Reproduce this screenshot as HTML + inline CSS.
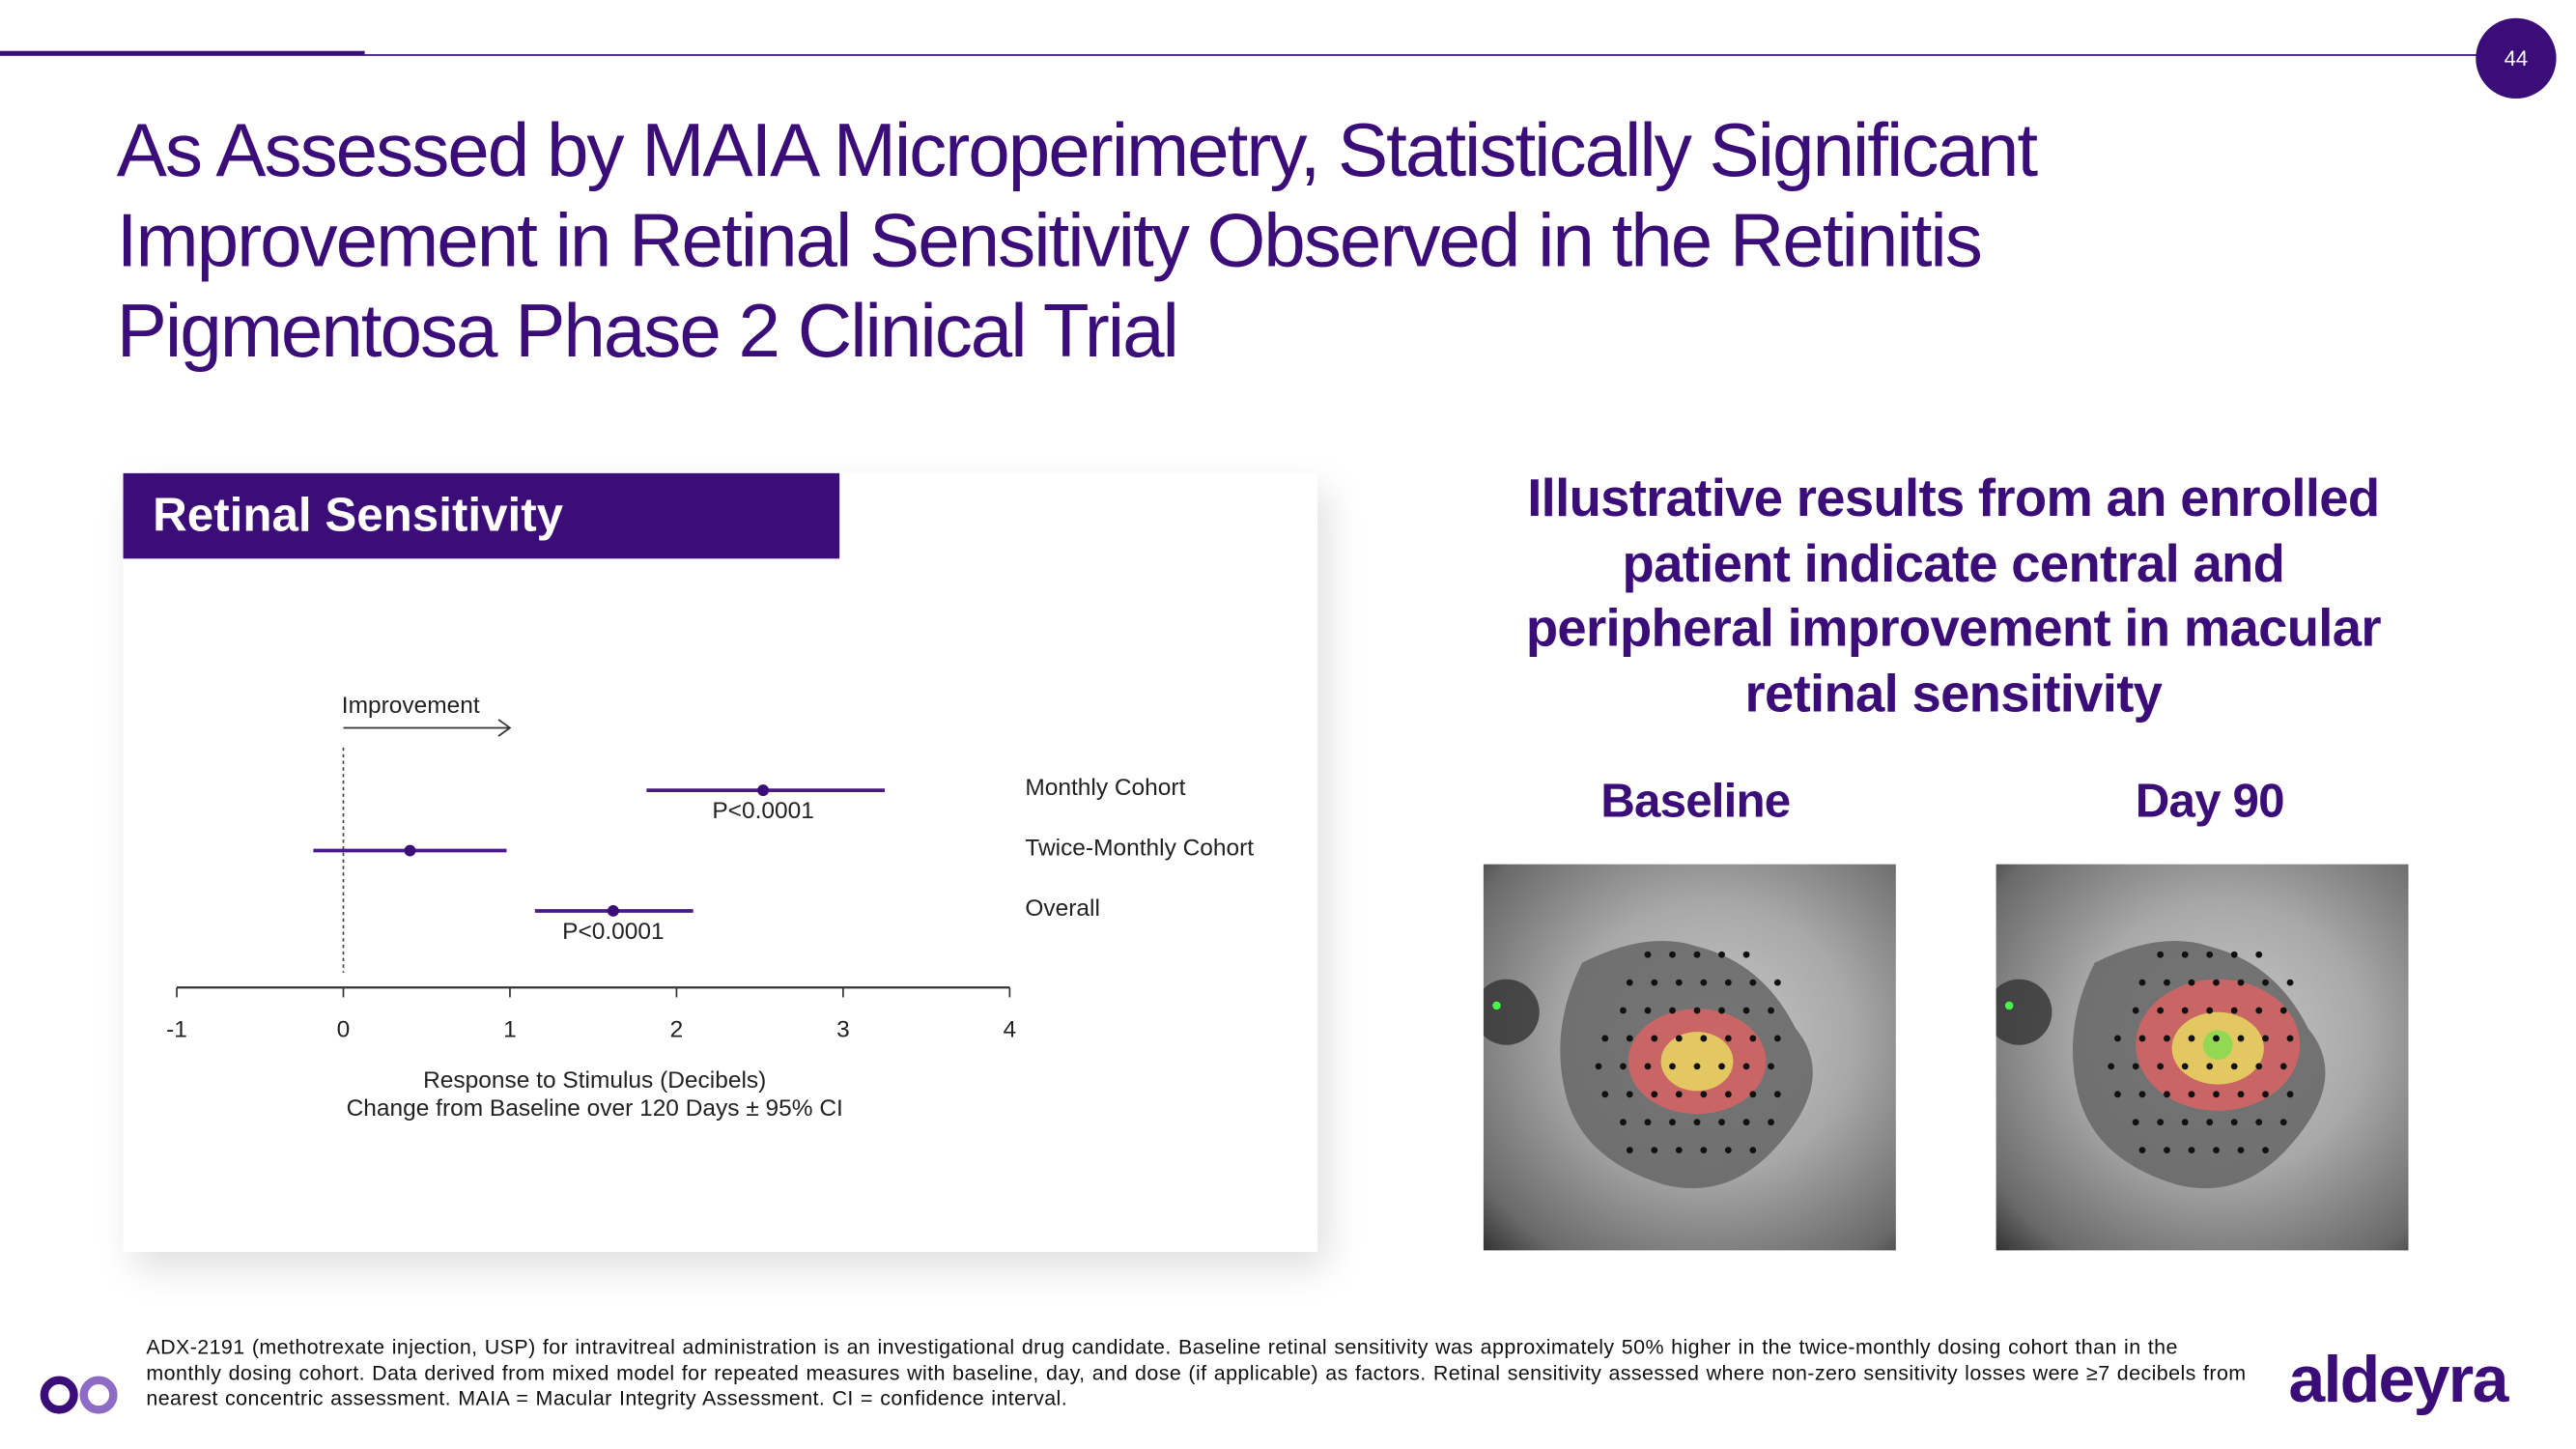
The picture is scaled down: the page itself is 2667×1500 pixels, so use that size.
<!DOCTYPE html>
<html><head><meta charset="utf-8"><style>
html,body{margin:0;padding:0;background:#fff;width:2667px;height:1500px;overflow:hidden}
#s{position:absolute;left:0;top:0;width:1568px;height:882px;transform:scale(1.70089);transform-origin:0 0;font-family:"Liberation Sans",sans-serif;color:#222}
.t{position:absolute;left:71px;top:64px;font-size:46px;line-height:55px;letter-spacing:-1.2px;color:#3b0d78;margin:0;font-weight:normal}
.card{position:absolute;left:75px;top:288px;width:727px;height:474px;background:#fff;box-shadow:6px 10px 22px rgba(0,0,0,0.13)}
.hdr{position:absolute;left:0;top:0;width:436px;height:52px;background:#3b0d78;color:#fff;font-weight:bold;font-size:29px;line-height:52px;padding-left:18px;box-sizing:border-box}
.rh{position:absolute;left:880px;width:618px;top:284px;text-align:center;font-weight:bold;font-size:32px;line-height:39.5px;letter-spacing:-0.4px;color:#3b0d78}
.lab{position:absolute;top:472px;font-weight:bold;font-size:29px;color:#3b0d78;letter-spacing:-0.5px;transform:translateX(-50%)}
.foot{position:absolute;left:89px;top:813px;width:1285px;font-size:12.6px;line-height:15.7px;color:#111;letter-spacing:0.25px;word-spacing:0.5px}
.img{position:absolute;top:526px;width:251px;height:235px;overflow:hidden;background:radial-gradient(ellipse at 55% 45%,#c8c8c8 0%,#a8a8a8 45%,#6a6a6a 85%,#333 100%)}
</style></head><body><div id="s">
<div style="position:absolute;left:0;top:31px;width:222px;height:3px;background:#3b0d78"></div>
<div style="position:absolute;left:222px;top:33px;width:1290px;height:1px;background:#3b0d78"></div>
<div style="position:absolute;left:1507px;top:11px;width:49px;height:49px;border-radius:50%;background:#3b0d78;color:#fff;font-size:13px;line-height:49px;text-align:center">44</div>
<h1 class="t">As Assessed by MAIA Microperimetry, Statistically Significant<br>Improvement in Retinal Sensitivity Observed in the Retinitis<br>Pigmentosa Phase 2 Clinical Trial</h1>
<div class="card"><div class="hdr">Retinal Sensitivity</div></div>
<svg id="ch" style="position:absolute;left:0;top:0" width="1568" height="882"></svg>
<div class="rh">Illustrative results from an enrolled<br>patient indicate central and<br>peripheral improvement in macular<br>retinal sensitivity</div>
<div class="lab" style="left:1032px">Baseline</div>
<div class="lab" style="left:1345px">Day 90</div>
<div class="img" style="left:903px"></div>
<div class="img" style="left:1215px"></div>
<div class="foot">ADX-2191 (methotrexate injection, USP) for intravitreal administration is an investigational drug candidate. Baseline retinal sensitivity was approximately 50% higher in the twice-monthly dosing cohort than in the monthly dosing cohort. Data derived from mixed model for repeated measures with baseline, day, and dose (if applicable) as factors. Retinal sensitivity assessed where non-zero sensitivity losses were ≥7 decibels from nearest concentric assessment. MAIA = Macular Integrity Assessment. CI = confidence interval.</div>
<svg style="position:absolute;left:22px;top:836px" width="54" height="26"><circle cx="14" cy="13" r="9" fill="none" stroke="#3b0d78" stroke-width="5"/><circle cx="38" cy="13" r="9" fill="none" stroke="#8e6bc4" stroke-width="5"/></svg>
<div style="position:absolute;left:1393px;top:818px;font-size:40px;font-weight:bold;color:#3b0d78;letter-spacing:-1px">aldeyra</div>
</div>
<script>
const categories=["Monthly Cohort","Twice-Monthly Cohort","Overall"];
const estimates=[2.52,0.4,1.62];
const lower=[1.82,-0.18,1.15];
const upper=[3.25,0.98,2.1];
const pLabels=["P<0.0001","","P<0.0001"];
const ticks=[-1,0,1,2,3,4];
const ns="http://www.w3.org/2000/svg";
const svg=document.getElementById('ch');
const X=v=>209+v*101.4;
const Y=i=>481+i*36.7;
function mk(t,a,txt){const e=document.createElementNS(ns,t);for(const k in a)e.setAttribute(k,a[k]);if(txt!==undefined)e.textContent=txt;svg.appendChild(e);return e;}
const F='font-family:"Liberation Sans",sans-serif;font-size:14.4px;fill:#222';
let e;
e=mk('line',{x1:X(-1),x2:X(4),y1:601,y2:601,stroke:'#333','stroke-width':1.3});


ticks.forEach(t=>{
 e=mk('line',{x1:X(t),x2:X(t),y1:601,y2:607,stroke:'#333'});
 
 
 e=mk('text',{x:X(t),y:631,'text-anchor':'middle',style:F},String(t));
 
 
});
e=mk('line',{x1:X(0),x2:X(0),y1:455,y2:592,stroke:'#444','stroke-dasharray':'2,2'});


e=mk('text',{x:208,y:434,style:F},'Improvement');


e=mk('path',{d:`M${X(0)} 443 H${X(1)} M${X(1)-7} 438 L${X(1)} 443 L${X(1)-7} 448`,stroke:'#333',fill:'none'});


categories.forEach((c,i)=>{
 e=mk('line',{x1:X(lower[i]),x2:X(upper[i]),y1:Y(i),y2:Y(i),stroke:'#4a1a8c','stroke-width':2.2});
 
 
 e=mk('circle',{cx:X(estimates[i]),cy:Y(i),r:3.5,fill:'#3b0d78'});
 
 
 if(pLabels[i]){e=mk('text',{x:X(estimates[i]),y:Y(i)+17,'text-anchor':'middle',style:F},pLabels[i]);
 
 }
 e=mk('text',{x:624,y:Y(i)+3,style:F},c);
 
 
});
e=mk('text',{x:362,y:662,'text-anchor':'middle',style:F},'Response to Stimulus (Decibels)');


e=mk('text',{x:362,y:679,'text-anchor':'middle',style:F},'Change from Baseline over 120 Days ± 95% CI');


document.querySelectorAll('.img').forEach((d,k)=>{
 const s=document.createElementNS(ns,'svg');s.setAttribute('width',251);s.setAttribute('height',235);
 let h=`<circle cx="14" cy="90" r="20" fill="#333" opacity=".8"/><circle cx="8" cy="86" r="2.5" fill="#4f4"/>
 <path d="M60 60 Q100 40 130 50 Q170 60 190 100 Q215 130 180 170 Q150 205 110 195 Q60 180 50 140 Q40 100 60 60Z" fill="#666" opacity=".85"/>
 <ellipse cx="${k?135:130}" cy="${k?110:120}" rx="${k?50:42}" ry="${k?40:32}" fill="#f06060" opacity=".7"/>
 <ellipse cx="${k?135:130}" cy="${k?112:120}" rx="${k?28:22}" ry="${k?22:18}" fill="#e8e060" opacity=".8"/>`;
 if(k)h+=`<circle cx="135" cy="110" r="9" fill="#7ddc50" opacity=".8"/>`;
 for(let r=0;r<8;r++)for(let c=0;c<8;c++){const x=70+c*15+(r%2)*4,y=55+r*17;if(Math.hypot((x-130)/65,(y-120)/75)<1)h+=`<circle cx="${x}" cy="${y}" r="2" fill="#111"/>`;}
 s.innerHTML=h;d.appendChild(s);
});
</script>
</body></html>
